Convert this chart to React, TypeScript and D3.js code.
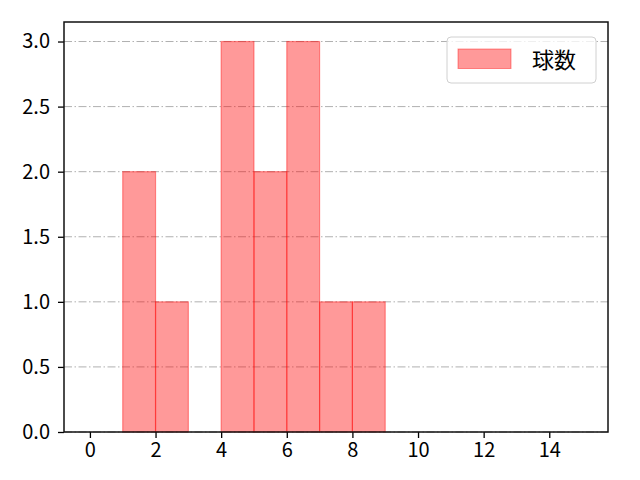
import React, { useEffect, useRef } from "react";
import * as d3 from "d3";

// histogram bins (left edge) and counts
const binStarts = [1, 2, 3, 4, 5, 6, 7, 8];
const counts = [2, 1, 0, 3, 2, 3, 1, 1];
const binWidth = 1;
const xTicks = [0, 2, 4, 6, 8, 10, 12, 14];
const yTicks = [0, 0.5, 1.0, 1.5, 2.0, 2.5, 3.0];
const seriesName = "球数";

const App: React.FC = () => {
  const svgRef = useRef<SVGSVGElement | null>(null);

  useEffect(() => {
    if (!svgRef.current) return;
    const svg = d3.select(svgRef.current);
    svg.selectAll("*").remove();

    const width = 640;
    const height = 480;
    const margin = { top: 22, right: 32, bottom: 48, left: 64 };
    const font = "'Noto Sans CJK JP', 'DejaVu Sans', sans-serif";

    const x = d3.scaleLinear().domain([-0.79, 15.79]).range([margin.left, width - margin.right]);
    const y = d3.scaleLinear().domain([0, 3.15]).range([height - margin.bottom, margin.top]);

    svg.append("rect").attr("width", width).attr("height", height).attr("fill", "white");

    // grid
    svg.append("g")
      .selectAll("line")
      .data(yTicks)
      .enter()
      .append("line")
      .attr("x1", margin.left)
      .attr("x2", width - margin.right)
      .attr("y1", d => y(d))
      .attr("y2", d => y(d))
      .attr("stroke", "#b0b0b0")
      .attr("stroke-width", 1)
      .attr("stroke-dasharray", "8,2.5,1.5,2.5");

    // bars
    svg.append("g")
      .selectAll("rect")
      .data(binStarts.map((s, i) => ({ s, c: counts[i] })).filter(d => d.c > 0))
      .enter()
      .append("rect")
      .attr("x", d => x(d.s))
      .attr("y", d => y(d.c))
      .attr("width", d => x(d.s + binWidth) - x(d.s))
      .attr("height", d => y(0) - y(d.c))
      .attr("fill", "red")
      .attr("fill-opacity", 0.4)
      .attr("stroke", "red")
      .attr("stroke-opacity", 0.4)
      .attr("stroke-width", 1.2);

    // axes
    const xAxis = svg.append("g")
      .attr("transform", `translate(0, ${height - margin.bottom})`)
      .call(d3.axisBottom(x).tickValues(xTicks).tickFormat(d3.format("d")).tickSizeOuter(0).tickSize(6).tickPadding(5));
    const yAxis = svg.append("g")
      .attr("transform", `translate(${margin.left}, 0)`)
      .call(d3.axisLeft(y).tickValues(yTicks).tickFormat(d3.format(".1f")).tickSizeOuter(0).tickSize(6).tickPadding(8));
    [xAxis, yAxis].forEach(a => {
      a.select(".domain").remove();
      a.selectAll("text").attr("font-family", font).attr("font-size", 20).attr("fill", "#000");
      a.selectAll("line").attr("stroke", "#000").attr("stroke-width", 1.3);
    });

    // frame
    svg.append("rect")
      .attr("x", margin.left)
      .attr("y", margin.top)
      .attr("width", width - margin.left - margin.right)
      .attr("height", height - margin.top - margin.bottom)
      .attr("fill", "none")
      .attr("stroke", "#111")
      .attr("stroke-width", 1.5);

    // legend
    const lg = svg.append("g").attr("transform", "translate(447, 37)");
    lg.append("rect")
      .attr("width", 149)
      .attr("height", 46)
      .attr("rx", 4)
      .attr("fill", "white")
      .attr("fill-opacity", 0.8)
      .attr("stroke", "#d0d0d0")
      .attr("stroke-width", 1);
    lg.append("rect")
      .attr("x", 11)
      .attr("y", 12)
      .attr("width", 53)
      .attr("height", 19.5)
      .attr("fill", "red")
      .attr("fill-opacity", 0.4)
      .attr("stroke", "red")
      .attr("stroke-opacity", 0.4);
    lg.append("text")
      .attr("x", 85)
      .attr("y", 31)
      .attr("font-family", font)
      .attr("font-size", 22)
      .text(seriesName);
  }, []);

  return <svg ref={svgRef} width={640} height={480} style={{ display: "block", margin: -8 }}></svg>;
};

export default App;
